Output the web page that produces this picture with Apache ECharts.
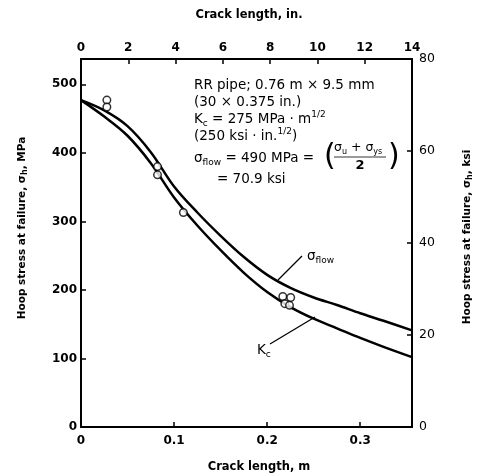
<!DOCTYPE html>
<html><head><meta charset="utf-8">
<script src="https://cdn.jsdelivr.net/npm/echarts@6/dist/echarts.min.js"></script>
<style>html,body{margin:0;padding:0;background:#fff}#c{width:478px;height:474px}</style>
</head><body><div id="c"></div>
<script>
// Crack length (m) sample positions for the two curves
const crackM  = [0, 0.025, 0.05, 0.075, 0.1, 0.125, 0.15, 0.175, 0.2, 0.225, 0.25, 0.275, 0.3, 0.325, 0.3556];
// σflow curve, hoop stress at failure (MPa)
const flowMPa = [477, 462, 439, 401, 351, 313, 279, 248, 222, 203, 189, 178, 166, 155, 141];
// Kc curve, hoop stress at failure (MPa)
const kcMPa   = [477, 453, 425, 385, 335, 294, 258, 225, 197, 175, 158, 144, 130, 117, 102];
// Test data points
const ptCrackM = [0.0278, 0.0278, 0.0822, 0.0822, 0.110, 0.2168, 0.2253, 0.219, 0.224];
const ptMPa    = [477, 467, 380, 368, 313, 190.5, 189, 180, 177.5];
// Axis ticks
const bottomTicks = [0, 0.1, 0.2, 0.3];
const topTicksIn  = [0, 2, 4, 6, 8, 10, 12, 14];
const leftTicks   = [0, 100, 200, 300, 400, 500];
const rightTicks  = [0, 20, 40, 60, 80];

const F = "'DejaVu Sans', 'Liberation Sans', Arial, sans-serif";
const near = (arr, v) => arr.some(t => Math.abs(t - v) < 1e-6);
const axisCommon = () => ({
  axisLine: {show: true, onZero: false, lineStyle: {color: '#000', width: 2}},
  axisTick: {show: true, inside: true, length: 5, lineStyle: {color: '#000', width: 1.5}},
  splitLine: {show: false}
});
const lbl = (arr, fmt, extra) => Object.assign({
  color: '#000', fontFamily: F, fontSize: 12, fontWeight: 'bold',
  formatter: v => near(arr, v) ? fmt(v) : ''
}, extra || {});

const chart = echarts.init(document.getElementById('c'));
const T = (x, y, text, rich) => ({
  type: 'text', x: x, y: y, z: 100,
  style: {text: text, rich: rich, fill: '#000', verticalAlign: 'middle'}
});
const richBase = {
  a: {fontSize: 13.5, fontFamily: F, lineHeight: 18, verticalAlign: 'middle'},
  s: {fontSize: 9, fontFamily: F, lineHeight: 18, verticalAlign: 'bottom'},
  p: {fontSize: 9, fontFamily: F, lineHeight: 18, verticalAlign: 'top'}
};
const richName = {
  a: {fontSize: 10.5, fontFamily: F, fontWeight: 'bold', lineHeight: 14, verticalAlign: 'middle'},
  s: {fontSize: 8, fontFamily: F, fontWeight: 'bold', lineHeight: 14, verticalAlign: 'bottom'}
};

chart.setOption({
  animation: false,
  backgroundColor: '#fff',
  grid: {left: 81, right: 66, top: 59, bottom: 47, outerBoundsMode: 'none'},
  xAxis: [
    Object.assign({type: 'value', position: 'bottom', min: 0, max: 0.3556, interval: 0.1,
      axisLabel: lbl(bottomTicks, v => v === 0 ? '0' : String(Math.round(v * 10) / 10), {margin: 8})}, axisCommon()),
    Object.assign({type: 'value', position: 'top', min: 0, max: 14, interval: 2,
      axisLabel: lbl(topTicksIn, v => String(v), {margin: 5})}, axisCommon())
  ],
  yAxis: [
    Object.assign({type: 'value', position: 'left', min: 0, max: 537, interval: 100,
      axisLabel: lbl(leftTicks, v => String(v), {margin: 4})}, axisCommon()),
    Object.assign({type: 'value', position: 'right', min: 0, max: 80, interval: 20,
      axisLabel: lbl(rightTicks, v => String(v), {margin: 7, fontWeight: 'normal', fontSize: 12.5})}, axisCommon())
  ],
  series: [
    {type: 'line', xAxisIndex: 0, yAxisIndex: 0, smooth: 0.35, showSymbol: false,
     lineStyle: {color: '#000', width: 2.5}, data: crackM.map((x, i) => [x, flowMPa[i]])},
    {type: 'line', xAxisIndex: 0, yAxisIndex: 0, smooth: 0.35, showSymbol: false,
     lineStyle: {color: '#000', width: 2.5}, data: crackM.map((x, i) => [x, kcMPa[i]])},
    {type: 'scatter', xAxisIndex: 0, yAxisIndex: 0, symbol: 'circle', symbolSize: 7.5, z: 5,
     itemStyle: {color: '#fff', borderColor: '#000', borderWidth: 1.5},
     data: ptCrackM.map((x, i) => [x, ptMPa[i]])}
  ],
  graphic: [
    {type: 'text', x: 249, y: 15, z: 100, style: {text: 'Crack length, in.', font: 'bold 11.5px ' + F, fill: '#000', align: 'center', verticalAlign: 'middle'}},
    {type: 'text', x: 259, y: 467, z: 100, style: {text: 'Crack length, m', font: 'bold 11.5px ' + F, fill: '#000', align: 'center', verticalAlign: 'middle'}},
    {type: 'text', x: 22, y: 228, rotation: Math.PI / 2, z: 100,
     style: {text: '{a|Hoop stress at failure, σ}{s|h}{a|, MPa}', rich: richName, align: 'center', verticalAlign: 'middle', fill: '#000'}},
    {type: 'text', x: 467, y: 237, rotation: Math.PI / 2, z: 100,
     style: {text: '{a|Hoop stress at failure, σ}{s|h}{a|, ksi}', rich: richName, align: 'center', verticalAlign: 'middle', fill: '#000'}},
    T(194, 85, '{a|RR pipe; 0.76 m × 9.5 mm}', richBase),
    T(194, 102, '{a|(30 × 0.375 in.)}', richBase),
    T(194, 119, '{a|K}{s|c}{a| = 275 MPa · m}{p|1/2}', richBase),
    T(194, 136, '{a|(250 ksi · in.}{p|1/2}{a|)}', richBase),
    T(194, 158, '{a|σ}{s|flow}{a| = 490 MPa =}', richBase),
    {type: 'text', x: 324, y: 157, z: 100, style: {text: '(', font: '30px ' + F, fill: '#000', verticalAlign: 'middle'}},
    T(334, 148, '{a|σ}{s|u}{a| + σ}{s|ys}', {
      a: {fontSize: 12.5, fontFamily: F, lineHeight: 16, verticalAlign: 'middle'},
      s: {fontSize: 8, fontFamily: F, lineHeight: 16, verticalAlign: 'bottom'}}),
    {type: 'line', z: 100, shape: {x1: 334, y1: 157, x2: 386, y2: 157}, style: {stroke: '#000', lineWidth: 0.8}},
    {type: 'text', x: 360, y: 166, z: 100, style: {text: '2', font: 'bold 13px ' + F, fill: '#000', align: 'center', verticalAlign: 'middle'}},
    {type: 'text', x: 388, y: 157, z: 100, style: {text: ')', font: '30px ' + F, fill: '#000', verticalAlign: 'middle'}},
    T(217, 179, '{a|= 70.9 ksi}', richBase),
    // curve labels with leader lines
    T(307, 256, '{a|σ}{s|flow}', richBase),
    {type: 'line', z: 100, shape: {x1: 302, y1: 256, x2: 278, y2: 280}, style: {stroke: '#000', lineWidth: 1.3}},
    T(257, 350, '{a|K}{s|c}', richBase),
    {type: 'line', z: 100, shape: {x1: 270, y1: 344, x2: 315, y2: 317}, style: {stroke: '#000', lineWidth: 1.3}}
  ]
});
</script>
</body></html>
